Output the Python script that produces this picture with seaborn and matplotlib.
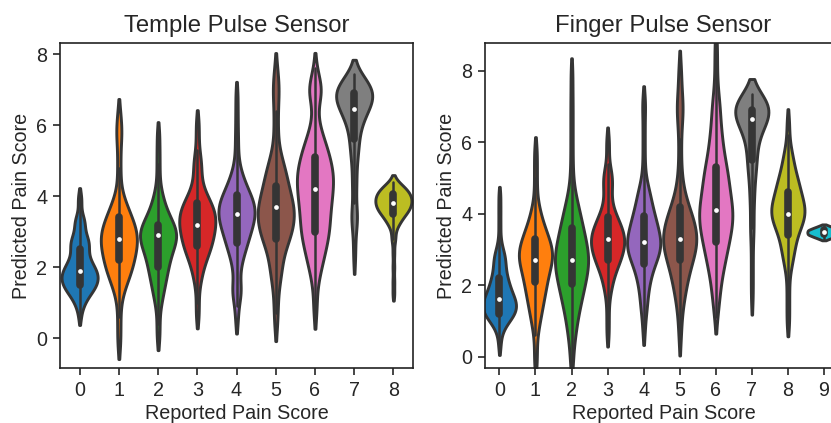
import numpy as np
import pandas as pd
import matplotlib
matplotlib.use("Agg")
import matplotlib.pyplot as plt
import seaborn as sns

# Predicted pain score values and how often each occurs,
# one pair per reported pain score.
# Temple pulse sensor
t0_vals = [0.6, 0.9, 1.1, 1.3, 1.5, 1.7, 1.9, 2.1, 2.3, 2.5, 2.7, 2.9, 3.1, 3.3, 3.5, 3.8, 4.0]
t0_cnts = [1, 2, 3, 6, 8, 9, 8, 6, 4, 4, 5, 3, 2, 3, 1, 1, 1]
t1_vals = [-0.2, 0.2, 0.6, 1.0, 1.3, 1.6, 1.9, 2.2, 2.5, 2.8, 3.1, 3.4, 3.7, 4.0, 4.4, 4.8,
           5.2, 5.6, 5.8, 6.0, 6.35]
t1_cnts = [1, 1, 1, 1, 2, 4, 6, 7, 8, 9, 8, 6, 4, 2, 1, 1, 1, 1, 1, 1, 1]
t2_vals = [0.0, 0.4, 0.8, 1.1, 1.4, 1.7, 2.0, 2.3, 2.6, 2.9, 3.2, 3.5, 3.8, 4.1, 4.5, 4.9,
           5.3, 5.75]
t2_cnts = [1, 1, 1, 2, 3, 4, 5, 6, 8, 10, 8, 5, 3, 2, 1, 1, 1, 1]
t3_vals = [0.6, 1.0, 1.4, 1.7, 2.0, 2.3, 2.6, 2.9, 3.2, 3.5, 3.8, 4.1, 4.4, 4.7, 5.0, 5.3,
           5.7, 6.1]
t3_cnts = [1, 1, 1, 2, 3, 5, 7, 8, 9, 9, 7, 4, 2, 2, 2, 1, 1, 1]
t4_vals = [0.5, 0.9, 1.25, 1.4, 1.7, 2.0, 2.3, 2.6, 2.9, 3.2, 3.5, 3.8, 4.1, 4.4, 4.7, 5.0,
           5.4, 5.8, 6.3, 6.85]
t4_cnts = [1, 1, 2, 2, 1, 2, 3, 5, 6, 8, 9, 9, 6, 4, 2, 1, 1, 1, 1, 1]
t5_vals = [0.35, 0.7, 1.0, 1.3, 1.6, 1.9, 2.2, 2.5, 2.8, 3.1, 3.4, 3.7, 4.0, 4.3, 4.6, 4.9,
           5.2, 5.5, 5.8, 6.1, 6.4, 6.7, 7.0, 7.3, 7.6]
t5_cnts = [1, 1, 1, 1, 2, 3, 3, 4, 7, 8, 9, 9, 7, 6, 5, 4, 2, 1, 1, 1, 1, 1, 2, 1, 1]
t6_vals = [0.7, 1.1, 1.5, 1.8, 2.1, 2.4, 2.7, 3.0, 3.3, 3.6, 3.9, 4.2, 4.5, 4.8, 5.1, 5.4,
           5.7, 6.0, 6.4, 6.8, 7.0, 7.2, 7.6]
t6_cnts = [1, 1, 1, 2, 3, 4, 5, 6, 6, 6, 7, 7, 8, 7, 6, 5, 3, 2, 1, 2, 3, 2, 1]
t7_vals = [2.2, 2.6, 3.0, 3.3, 3.5, 3.8, 4.2, 4.6, 5.0, 5.3, 5.6, 5.9, 6.2, 6.45, 6.7, 6.9,
           7.1, 7.3, 7.45]
t7_cnts = [1, 1, 1, 2, 2, 1, 2, 2, 2, 3, 3, 4, 6, 8, 10, 10, 8, 5, 2]
t8_vals = [1.25, 1.6, 2.0, 2.4, 2.8, 3.1, 3.3, 3.5, 3.65, 3.8, 3.95, 4.1, 4.25, 4.4]
t8_cnts = [1, 1, 1, 1, 2, 2, 5, 7, 8, 9, 9, 8, 6, 2]

# Finger pulse sensor
f0_vals = [0.3, 0.6, 0.8, 1.0, 1.2, 1.4, 1.6, 1.8, 2.0, 2.2, 2.4, 2.6, 2.8, 3.0, 3.3, 3.7,
           4.1, 4.5]
f0_cnts = [1, 1, 2, 5, 8, 9, 8, 6, 5, 4, 3, 3, 3, 2, 1, 1, 1, 1]
f1_vals = [-0.2, 0.2, 0.6, 0.9, 1.2, 1.5, 1.8, 2.1, 2.4, 2.7, 3.0, 3.3, 3.6, 3.9, 4.2, 4.6,
           5.0, 5.4, 5.8]
f1_cnts = [1, 1, 1, 2, 3, 4, 5, 6, 7, 9, 9, 7, 5, 3, 2, 1, 1, 1, 1]
f2_vals = [-0.2, 0.2, 0.6, 0.9, 1.2, 1.5, 1.8, 2.1, 2.4, 2.7, 3.0, 3.3, 3.6, 3.9, 4.2, 4.5,
           4.9, 5.4, 6.0, 6.6, 7.2, 7.9]
f2_cnts = [1, 1, 2, 2, 3, 4, 5, 6, 7, 8, 7, 6, 5, 4, 3, 2, 1, 1, 1, 1, 1, 1]
f3_vals = [0.6, 1.0, 1.4, 1.8, 2.1, 2.4, 2.7, 3.0, 3.3, 3.6, 3.9, 4.2, 4.5, 4.8, 5.1, 5.4,
           5.8, 6.1]
f3_cnts = [1, 1, 1, 2, 3, 5, 8, 10, 11, 9, 6, 3, 2, 3, 3, 1, 1, 1]
f4_vals = [0.7, 1.1, 1.4, 1.7, 2.0, 2.3, 2.6, 2.9, 3.2, 3.5, 3.8, 4.1, 4.4, 4.7, 5.0, 5.4,
           5.9, 6.4, 6.9, 7.2]
f4_cnts = [1, 1, 2, 2, 3, 4, 6, 9, 10, 8, 7, 5, 4, 3, 1, 1, 1, 1, 1, 1]
f5_vals = [0.5, 0.9, 1.2, 1.5, 1.8, 2.1, 2.4, 2.7, 3.0, 3.3, 3.6, 3.9, 4.2, 4.5, 4.9, 5.3,
           5.7, 6.1, 6.5, 6.8, 7.1, 7.4, 7.8, 8.1]
f5_cnts = [1, 1, 1, 2, 3, 4, 5, 7, 9, 10, 9, 7, 5, 3, 2, 1, 1, 1, 1, 2, 2, 1, 1, 1]
f6_vals = [1.1, 1.4, 1.7, 2.0, 2.3, 2.6, 2.9, 3.2, 3.5, 3.8, 4.1, 4.4, 4.7, 5.0, 5.3, 5.6,
           5.9, 6.2, 6.5, 6.8, 7.1, 7.4, 7.8, 8.3, 8.8]
f6_cnts = [1, 1, 2, 2, 3, 4, 5, 6, 7, 8, 8, 7, 6, 6, 5, 4, 3, 3, 2, 2, 2, 1, 1, 1, 1]
f7_vals = [1.6, 2.1, 2.6, 3.1, 3.6, 4.0, 4.4, 4.8, 5.2, 5.5, 5.8, 6.1, 6.4, 6.65, 6.9, 7.15,
           7.35]
f7_cnts = [1, 1, 1, 1, 2, 1, 2, 2, 3, 3, 3, 4, 6, 9, 11, 9, 4]
f8_vals = [0.9, 1.3, 1.7, 2.1, 2.5, 2.8, 3.1, 3.4, 3.7, 4.0, 4.3, 4.6, 4.9, 5.2, 5.5, 5.8,
           6.2, 6.6]
f8_cnts = [1, 1, 1, 1, 2, 3, 4, 5, 8, 10, 9, 7, 6, 4, 3, 2, 1, 1]
f9_vals = [3.3, 3.36, 3.42, 3.48, 3.54, 3.6, 3.66]
f9_cnts = [1, 2, 3, 3, 3, 2, 1]

temple_groups = [(t0_vals, t0_cnts), (t1_vals, t1_cnts), (t2_vals, t2_cnts),
                 (t3_vals, t3_cnts), (t4_vals, t4_cnts), (t5_vals, t5_cnts),
                 (t6_vals, t6_cnts), (t7_vals, t7_cnts), (t8_vals, t8_cnts)]
finger_groups = [(f0_vals, f0_cnts), (f1_vals, f1_cnts), (f2_vals, f2_cnts),
                 (f3_vals, f3_cnts), (f4_vals, f4_cnts), (f5_vals, f5_cnts),
                 (f6_vals, f6_cnts), (f7_vals, f7_cnts), (f8_vals, f8_cnts),
                 (f9_vals, f9_cnts)]


def to_frame(groups):
    parts = []
    for i, (vals, cnts) in enumerate(groups):
        obs = np.repeat(vals, cnts)
        parts.append(pd.DataFrame({"reported": str(i), "predicted": obs}))
    return pd.concat(parts, ignore_index=True)


temple_df = to_frame(temple_groups)
finger_df = to_frame(finger_groups)

sns.set_style("ticks")
plt.rcParams["font.family"] = ["Liberation Sans", "DejaVu Sans"]
plt.rcParams["axes.edgecolor"] = "#222222"
plt.rcParams["axes.linewidth"] = 1.2

fig = plt.figure(figsize=(8.31, 4.23), dpi=100)
ax1 = fig.add_axes([0.0722, 0.130, 0.4248, 0.768])
ax2 = fig.add_axes([0.5836, 0.130, 0.4296, 0.768])

panels = [
    (ax1, temple_df, "Temple Pulse Sensor", (-0.5, 8.5), (-0.84, 8.31)),
    (ax2, finger_df, "Finger Pulse Sensor", (-0.4, 9.5), (-0.32, 8.78)),
]

for ax, df, title, xlim, ylim in panels:
    order = sorted(df["reported"].unique(), key=int)
    sns.violinplot(
        data=df,
        x="reported",
        y="predicted",
        hue="reported",
        order=order,
        hue_order=order,
        palette=sns.color_palette("tab10", len(order)),
        saturation=1,
        density_norm="width",
        width=0.92,
        bw_adjust=0.6,
        cut=1.2,
        linewidth=2.1,
        linecolor="#353535",
        inner_kws=dict(box_width=5.5, whis_width=1.8, marker="o"),
        legend=False,
        ax=ax,
    )
    # smaller white median dots
    for line in ax.lines:
        if line.get_marker() == "o":
            line.set_markersize(3.4)
            line.set_markeredgewidth(0)
    ax.set_xlim(*xlim)
    ax.set_ylim(*ylim)
    ax.set_yticks([0, 2, 4, 6, 8])
    ax.set_title(title, fontsize=17.2, pad=8)
    ax.set_xlabel("Reported Pain Score", fontsize=14.2, labelpad=3)
    ax.set_ylabel("Predicted Pain Score", fontsize=14.2, labelpad=4)
    ax.tick_params(labelsize=14.2, length=5, width=1.2, pad=4)

fig.savefig("out.png", dpi=100)
